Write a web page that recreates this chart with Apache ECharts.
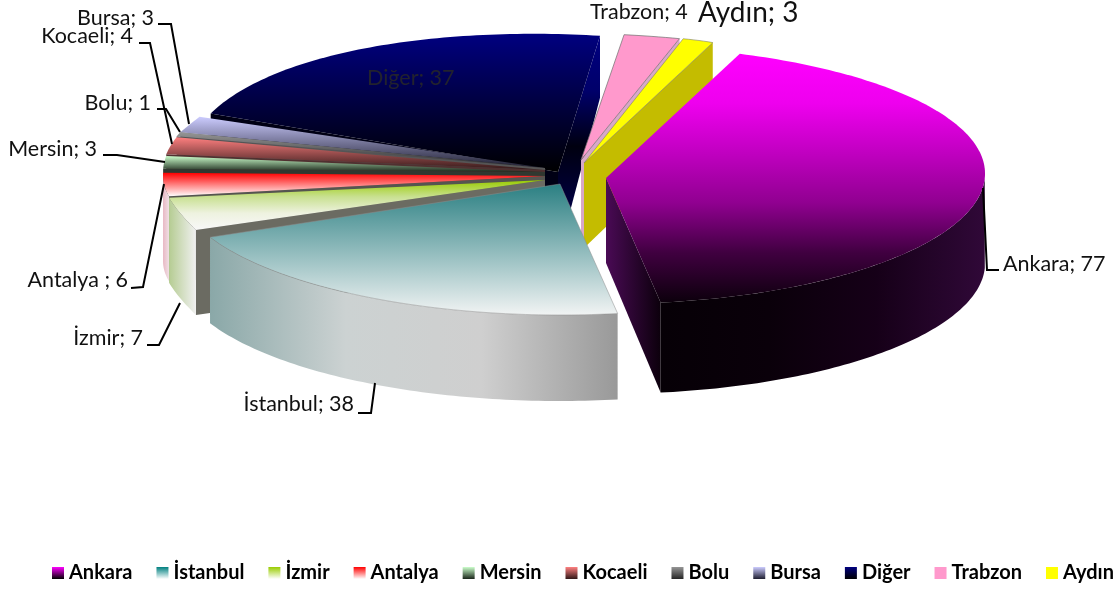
<!DOCTYPE html>
<html><head><meta charset="utf-8">
<style>html,body{margin:0;padding:0;background:#fff}#c{width:1118px;height:591px}</style>
<script src="https://cdn.jsdelivr.net/npm/echarts@6/dist/echarts.min.js"></script>
</head><body><div id="c"></div>
<script>
const categories = ['Ankara','İstanbul','İzmir','Antalya','Mersin','Kocaeli','Bolu','Bursa','Diğer','Trabzon','Aydın'];
const values = [77,38,7,6,3,4,1,3,37,4,3];
const labelNames = ['Ankara','İstanbul','İzmir','Antalya ','Mersin','Kocaeli','Bolu','Bursa','Diğer','Trabzon','Aydın'];
const firstSliceAngle = 19.8;
const drawOrder = ['Diğer','Trabzon','Aydın','Ankara','Bursa','Bolu','Kocaeli','Mersin','Antalya','İzmir','İstanbul'];

// slice layout: exploded apex, elliptical radii at slice start/end, wall depth at the rim
const sliceLayout = {
  'Ankara':  {ax:606,ay:178,rx0:395,rx1:360,ry0:132,ry1:126,d:90},
  'İstanbul':{ax:560,ay:184,rx0:380,rx1:383,ry0:131,ry1:131,d:86},
  'İzmir':   {ax:545,ay:180,rx0:382,rx1:382,ry0:123,ry1:100,d:85},
  'Antalya': {ax:545,ay:176,rx0:382,rx1:382,ry0:115,ry1:115,d:85},
  'Mersin':  {ax:545,ay:172,rx0:382,rx1:382,ry0:120,ry1:123,d:86},
  'Kocaeli': {ax:545,ay:170,rx0:382,rx1:382,ry0:120,ry1:124,d:86},
  'Bolu':    {ax:545,ay:168,rx0:382,rx1:382,ry0:120,ry1:120,d:86},
  'Bursa':   {ax:545,ay:168,rx0:382,rx1:376,ry0:120,ry1:130,d:86},
  'Diğer':   {ax:558,ay:172,rx0:378,rx1:400,ry0:148,ry1:137,d:62},
  'Trabzon': {ax:581,ay:160,rx0:410,rx1:410,ry0:126,ry1:125,d:80},
  'Aydın':   {ax:584,ay:163,rx0:413,rx1:380,ry0:128,ry1:128,d:82}
};
const apexDepth = 85;

const V = (stops)=>({type:'linear',x:0,y:0,x2:0,y2:1,colorStops:stops.map((c,i)=>({offset:i/(stops.length-1),color:c}))});
const H = (stops)=>({type:'linear',x:0,y:0,x2:1,y2:0,colorStops:stops.map((c,i)=>({offset:i/(stops.length-1),color:c}))});

const topFill = {
  'Ankara':V(['#ff00ff','#ee00ee','#c000c0','#900090','#400040','#0c000c']),
  'İstanbul':V(['#2a7f82','#f2f4f4']),
  'İzmir':V(['#99cc00','#c8e090','#eef2e0','#f8f8f8']),
  'Antalya':V(['#ff0000','#ffffff']),
  'Mersin':V(['#ccffcc','#1a261a']),
  'Kocaeli':V(['#ff8080','#301818']),
  'Bolu':V(['#969696','#262626']),
  'Bursa':V(['#ccccff','#1e1e30']),
  'Diğer':V(['#000080','#000000']),
  'Trabzon':'#ff99cc',
  'Aydın':'#ffff00'
};
const legendFill = Object.assign({},topFill,{
  'Ankara':V(['#ff00ff','#000000']),
  'İstanbul':V(['#008080','#ffffff']),
  'İzmir':V(['#99cc00','#ffffff'])
});
const arcWall = {
  'Ankara':H(['#060006','#0a000a','#160018','#300838']),
  'İstanbul':H(['#8aa8a8','#ccd2d2','#cfcfcf','#999999']),
  'İzmir':H(['#b5cc92','#f0f0f0']),
  'Antalya':H(['#e8b8c4','#f0e0e4'])
};
const startWall = {
  'İzmir':'#6b6b62','Antalya':'#555550','Mersin':'#303830','Kocaeli':'#503030','Bolu':'#555555','Bursa':'#505060',
  'Diğer':'#000014'
};
const endWall = {
  'Ankara':H(['#4a0a55','#0c000c']),
  'Diğer':V(['#000080','#00006a','#000010','#00003c','#000050']),
  'Trabzon':'#d8a8c8','Aydın':'#c4bc00'
};
const topStroke = {'Trabzon':'rgba(110,110,110,.7)','Aydın':'rgba(130,130,100,.6)','İstanbul':'rgba(140,140,140,.5)'};

const total = values.reduce((a,b)=>a+b,0);
function sliceAngles(name, v){
  let i = categories.indexOf(name), acc = 0;
  for (let k=0;k<i;k++) acc += values[k];
  const a0 = firstSliceAngle + acc/total*360;
  return [a0, a0 + v/total*360];
}
function renderSlice(name){
  return function(params, api){
    const L = sliceLayout[name];
    const [a0,a1] = sliceAngles(name, api.value(0));
    const pt = (deg)=>{
      const t=(deg-a0)/(a1-a0), r=deg*Math.PI/180;
      const rx=L.rx0+(L.rx1-L.rx0)*t, ry=L.ry0+(L.ry1-L.ry0)*t;
      return [L.ax+rx*Math.sin(r), L.ay-ry*Math.cos(r)];
    };
    const arc = (s,e)=>{ const p=[]; const n=Math.max(2,Math.ceil((e-s))); for(let i=0;i<=n;i++) p.push(pt(s+(e-s)*i/n)); return p; };
    const kids = [];
    const poly = (points,fill)=>({type:'polygon',shape:{points},style:{fill}});
    const wall = (deg)=>{ const p=pt(deg); return [[L.ax,L.ay],p,[p[0],p[1]+L.d],[L.ax,L.ay+apexDepth]]; };
    if (startWall[name]) kids.push(poly(wall(a0),startWall[name]));
    if (endWall[name]) kids.push(poly(wall(a1),endWall[name]));
    const s=Math.max(a0,90), e=Math.min(a1,270);
    if (e>s && arcWall[name]) {
      const upper=arc(s,e), lower=upper.map(p=>[p[0],p[1]+L.d]).reverse();
      kids.push(poly(upper.concat(lower),arcWall[name]));
    }
    const top={type:'polygon',shape:{points:[[L.ax,L.ay]].concat(arc(a0,a1))},style:{fill:topFill[name]}};
    if (topStroke[name]) { top.style.stroke=topStroke[name]; top.style.lineWidth=1; }
    kids.push(top);
    return {type:'group',children:kids};
  };
}

// label placement: text anchor and leader line
const labelFont = '21.5px Lato, sans-serif';
const labelPlace = {
  'Ankara':  {x:1003,y:264,align:'left',line:[[983,188],[987,270],[999,270]]},
  'İstanbul':{x:354,y:404,align:'right',line:[[358,413],[371,413],[375,383]]},
  'İzmir':   {x:143,y:338,align:'right',line:[[147,345],[159,345],[180,303]]},
  'Antalya': {x:128,y:280,align:'right',line:[[131,288],[143,287],[164,184]]},
  'Mersin':  {x:97,y:149,align:'right',line:[[103,155],[117,155],[165,162]]},
  'Kocaeli': {x:133,y:36,align:'right',line:[[139,43],[150,43],[172,144]]},
  'Bolu':    {x:151,y:103,align:'right',line:[[157,109],[166,109],[180,132]]},
  'Bursa':   {x:154,y:18,align:'right',line:[[158,24],[171,24],[189,124]]},
  'Diğer':   {x:367,y:78,align:'left',color:'#22222e'},
  'Trabzon': {x:590,y:12,align:'left'},
  'Aydın':   {x:698,y:13,align:'left',font:'28px Lato, sans-serif'}
};
function renderLabel(params, api){
  const name=categories[api.value(0)], v=api.value(1), P=labelPlace[name], kids=[];
  if (P.line) kids.push({type:'polyline',shape:{points:P.line},style:{stroke:'#000',lineWidth:2,fill:null}});
  kids.push({type:'text',x:P.x,y:P.y,style:{text:labelNames[api.value(0)]+'; '+v,fill:P.color||'#111',font:P.font||labelFont,align:P.align,verticalAlign:'middle'}});
  return {type:'group',children:kids};
}

const series = categories.map(name=>({
  type:'custom',name,coordinateSystem:'none',silent:true,animation:false,
  z:2+drawOrder.indexOf(name),
  renderItem:renderSlice(name),
  data:[[values[categories.indexOf(name)]]],
  itemStyle:{color:legendFill[name]}
}));
series.push({type:'custom',name:'labels',coordinateSystem:'none',silent:true,animation:false,z:30,
  renderItem:renderLabel,data:categories.map((c,i)=>[i,values[i]])});

const chart = echarts.init(document.getElementById('c'),null,{renderer:'canvas'});
chart.setOption({
  backgroundColor:'#fff',animation:false,
  legend:{
    left:52,top:563,width:1300,orient:'horizontal',selectedMode:false,padding:0,
    itemWidth:12,itemHeight:12,itemGap:24,
    textStyle:{fontFamily:'Lato, sans-serif',fontWeight:'bold',fontSize:20,color:'#000'},
    data:categories.map(name=>({name,icon:'rect',itemStyle:{color:legendFill[name]}}))
  },
  series
});
</script></body></html>
